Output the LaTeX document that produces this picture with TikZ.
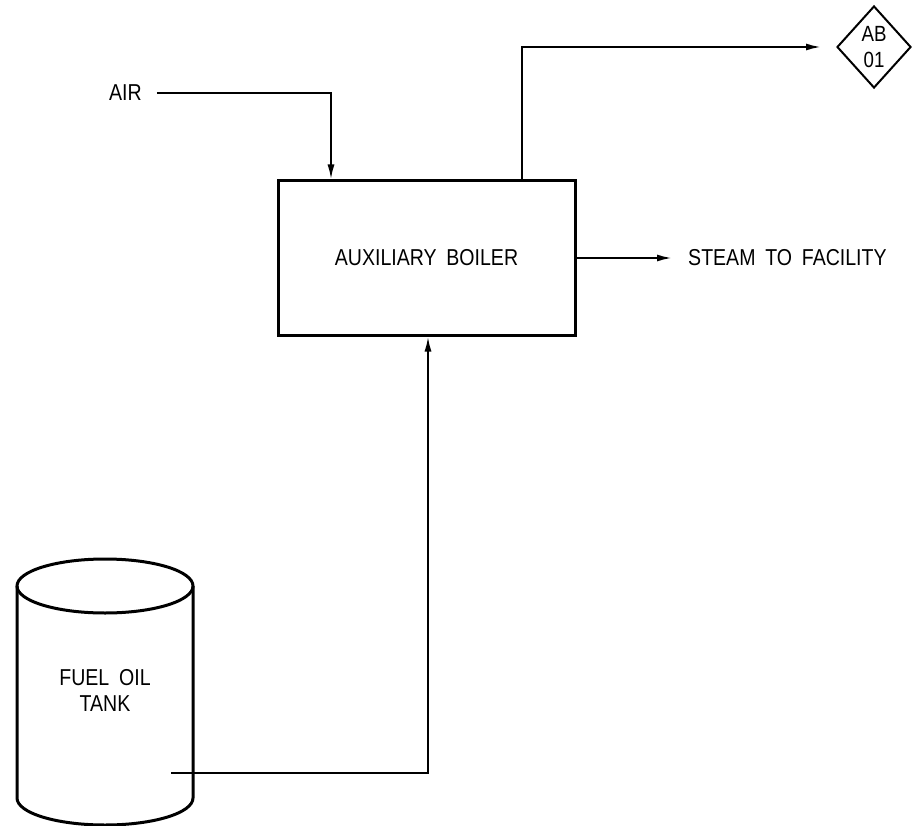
\documentclass[tikz,border=0pt]{standalone}
\usepackage{fontspec}
\setmainfont{Liberation Sans}
\newfontfamily\cadfont{Liberation Sans}[FakeStretch=0.85,WordSpace=1.8]
\usetikzlibrary{shapes.geometric,arrows.meta}
\begin{document}
\begin{tikzpicture}[x=1pt,y=-1pt,
  lbl/.style={font=\cadfont\fontsize{23}{26}\selectfont, inner sep=0pt, align=center},
  flow/.style={line width=2pt, -{Latex[length=15pt,width=7pt]}},
  tankline/.style={line width=3pt}]
\useasboundingbox (0,0) rectangle (912,826);
% nodes
\node[lbl, anchor=west] (air) at (109,93) {AIR};
\node[lbl, draw, line width=3pt, minimum width=297pt, minimum height=154pt] (boiler) at (426.5,258) {AUXILIARY BOILER};
\node[draw, diamond, line width=2pt, minimum width=74pt, minimum height=82pt, inner sep=0pt,
      font=\cadfont\fontsize{22}{26}\selectfont, align=center] (ab) at (874,47) {AB\\01};
\node[lbl, anchor=west] (steam) at (688,258) {STEAM TO FACILITY};
\node[lbl] (tank) at (105,690) {FUEL OIL\\TANK};
% tank outline
\draw[tankline] (105,586) ellipse [x radius=88, y radius=27];
\draw[tankline] (17,586) -- (17,798) arc[start angle=180, end angle=0, x radius=88, y radius=27] -- (193,586);
% coordinates
\coordinate (airturn) at (331,93);
\coordinate (abturn) at (522,47);
\coordinate (tankout) at (171,773);
\coordinate (fuelturn) at (428,773);
% connectors
\draw[flow, shorten <=15pt] (air.east) -- (airturn) -- (boiler.north -| airturn);
\draw[flow, shorten >=15pt] (boiler.north -| abturn) -- (abturn) -- (ab.west);
\draw[flow, shorten >=16pt] (boiler.east) -- (steam.west);
\draw[flow] (tankout) -- (fuelturn) -- (fuelturn |- boiler.south);
\end{tikzpicture}
\end{document}
